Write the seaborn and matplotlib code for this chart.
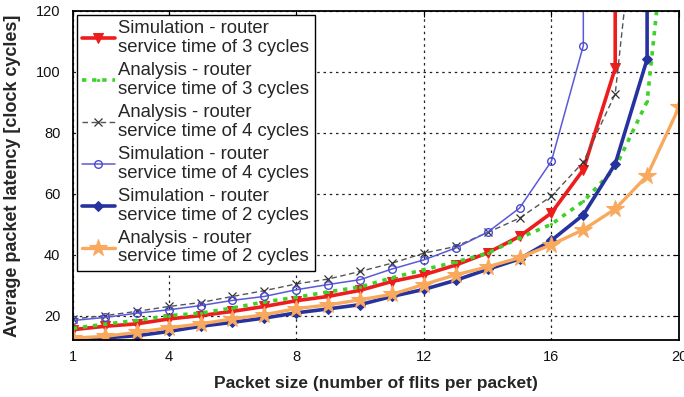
import numpy as np
import pandas as pd
import matplotlib
matplotlib.use("Agg")
import matplotlib.pyplot as plt
import seaborn as sns

# Packet sizes (flits per packet) and average latencies (clock cycles).
# A trailing very large value marks saturation, where the curve leaves the plot.
sim3_x = [1, 2, 3, 4, 5, 6, 7, 8, 9, 10, 11, 12, 13, 14, 15, 16, 17, 18, 18]
sim3_y = [15.4, 16.5, 17.3, 18.9, 20.0, 21.4, 23.0, 24.9, 26.3, 28.3, 31.2, 33.4,
          36.6, 40.6, 46.0, 53.7, 67.9, 101.2, 200]

ana3_x = [1, 2, 3, 4, 5, 6, 7, 8, 9, 10, 11, 12, 13, 14, 15, 16, 17, 18, 19, 19.5]
ana3_y = [15.8, 17.2, 18.4, 20.0, 20.8, 22.5, 24.5, 26.0, 27.8, 29.4, 32.4, 35.1,
          37.6, 40.5, 45.5, 50.0, 57.5, 68.5, 90.3, 140]

ana4_x = [1, 2, 3, 4, 5, 6, 7, 8, 9, 10, 11, 12, 13, 14, 15, 16, 17, 18, 18.5]
ana4_y = [18.9, 20.0, 21.4, 23.0, 24.3, 26.3, 28.2, 30.4, 32.0, 34.5, 37.2, 40.5,
          42.7, 47.3, 52.0, 59.2, 70.4, 92.8, 141]

sim4_x = [1, 2, 3, 4, 5, 6, 7, 8, 9, 10, 11, 12, 13, 14, 15, 16, 17, 17]
sim4_y = [18.4, 19.4, 20.8, 21.9, 23.3, 25.0, 26.3, 28.5, 30.2, 31.8, 35.3, 38.3,
          42.2, 47.4, 55.3, 70.7, 108.6, 200]

sim2_x = [1, 2, 3, 4, 5, 6, 7, 8, 9, 10, 11, 12, 13, 14, 15, 16, 17, 18, 19, 19]
sim2_y = [12.0, 12.7, 13.4, 14.8, 16.5, 17.8, 19.2, 20.9, 22.2, 23.6, 26.3, 28.6,
          31.6, 35.2, 38.6, 44.7, 53.1, 69.8, 104.2, 200]

ana2_x = [1, 2, 3, 4, 5, 6, 7, 8, 9, 10, 11, 12, 13, 14, 15, 16, 17, 18, 19, 20]
ana2_y = [12.6, 13.2, 14.5, 16.0, 17.3, 18.9, 20.3, 22.3, 23.5, 25.2, 27.0, 30.2,
          33.4, 36.0, 39.0, 43.3, 48.2, 55.0, 65.9, 88.4]

labels = [
    "Simulation - router\nservice time of 3 cycles",
    "Analysis - router\nservice time of 3 cycles",
    "Analysis - router\nservice time of 4 cycles",
    "Simulation - router\nservice time of 4 cycles",
    "Simulation - router\nservice time of 2 cycles",
    "Analysis - router\nservice time of 2 cycles",
]

x_ticks = [1, 4, 8, 12, 16, 20]
y_ticks = [20, 40, 60, 80, 100, 120]

sns.set_style("white")
plt.rcParams["font.family"] = ["Liberation Sans", "DejaVu Sans"]

series = [
    (sim3_x, sim3_y, dict(color="#ee1c1c", linestyle="-", linewidth=2.6,
                          marker="v", markersize=7, markerfacecolor="#ee1c1c",
                          markeredgecolor="#ee1c1c")),
    (ana3_x, ana3_y, dict(color="#3dd22a", linestyle=(0, (1.2, 1.6)), linewidth=2.6,
                          marker=".", markersize=3, markerfacecolor="#3dd22a",
                          markeredgecolor="#3dd22a")),
    (ana4_x, ana4_y, dict(color="#555555", linestyle=(0, (4, 2.5)), linewidth=1.0,
                          marker="x", markersize=6, markerfacecolor="none",
                          markeredgecolor="#333333", markeredgewidth=0.9)),
    (sim4_x, sim4_y, dict(color="#5a5ad8", linestyle="-", linewidth=1.1,
                          marker="o", markersize=5.5, markerfacecolor="none",
                          markeredgecolor="#4a4ad0", markeredgewidth=1.0)),
    (sim2_x, sim2_y, dict(color="#26339e", linestyle="-", linewidth=2.6,
                          marker="D", markersize=5, markerfacecolor="#26339e",
                          markeredgecolor="#26339e")),
    (ana2_x, ana2_y, dict(color="#f9a95e", linestyle="-", linewidth=2.4,
                          marker="*", markersize=13, markerfacecolor="#f9a95e",
                          markeredgecolor="#f9a95e")),
]

fig = plt.figure(figsize=(6.84, 3.97), dpi=100)
ax = fig.add_axes([0.1067, 0.1436, 0.8860, 0.8287])

for (xs, ys, style), label in zip(series, labels):
    df = pd.DataFrame({"x": xs, "y": ys})
    sns.lineplot(data=df, x="x", y="y", ax=ax, estimator=None, sort=False,
                 label=label, **style)

ax.set_xlim(1, 20)
ax.set_ylim(12, 120)
ax.set_xticks(x_ticks)
ax.set_yticks(y_ticks)
ax.set_xticklabels([str(t) for t in x_ticks])
ax.set_yticklabels([str(t) for t in y_ticks])
ax.tick_params(direction="in", top=True, right=True, length=4, width=0.8,
               labelsize=10.5, colors="black")
ax.tick_params(axis="x", pad=7)
ax.tick_params(axis="y", pad=9)
for lbl in ax.get_xticklabels() + ax.get_yticklabels():
    lbl.set_color("#111111")

ax.grid(True, color="#222222", linestyle=(0, (2, 3)), linewidth=0.9)
for sp in ax.spines.values():
    sp.set_visible(True)
    sp.set_color("black")
    sp.set_linewidth(1.3)

ax.set_xlabel("Packet size (number of flits per packet)", fontsize=12.5,
              fontweight="bold", labelpad=9)
ax.set_ylabel("Average packet latency [clock cycles]", fontsize=13,
              fontweight="bold", labelpad=11)

leg = ax.legend(loc="upper left", fontsize=13.3, frameon=True, fancybox=False,
                framealpha=1, edgecolor="black", borderpad=0.3,
                labelspacing=0.32, handlelength=1.75, handletextpad=0.2,
                borderaxespad=0.2)
leg.get_frame().set_linewidth(1.0)
for t in leg.get_texts():
    t.set_linespacing(1.15)

fig.savefig("out.png", dpi=100)
